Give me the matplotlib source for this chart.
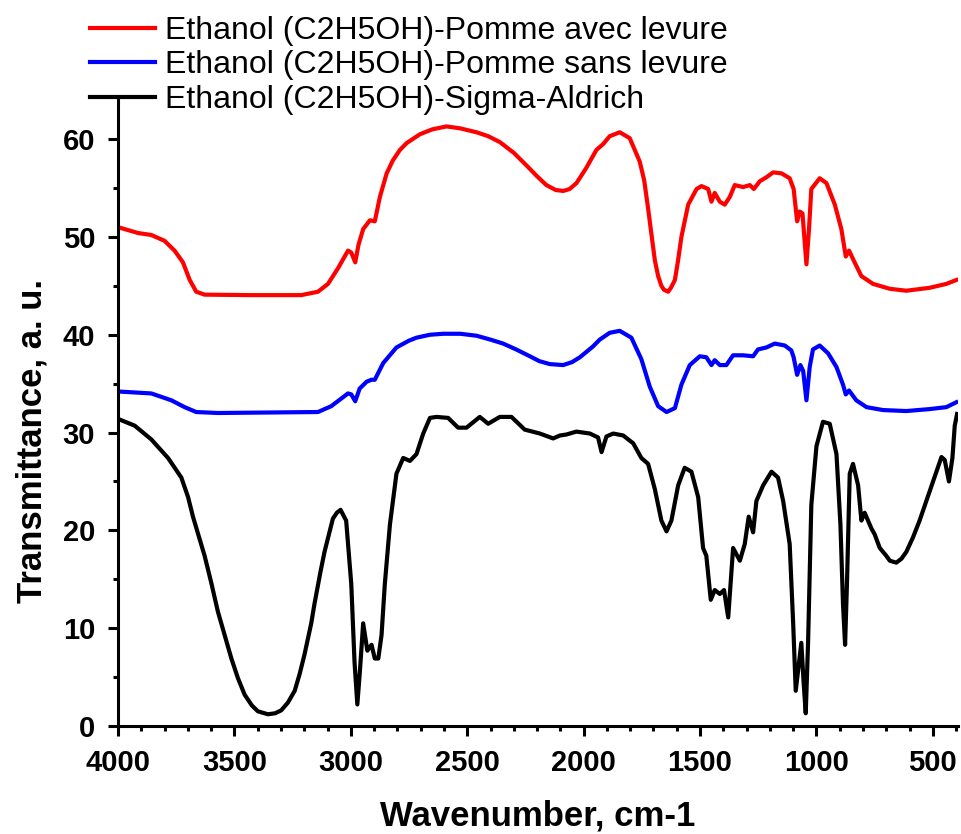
import matplotlib
matplotlib.use("Agg")
import matplotlib.pyplot as plt
from matplotlib.ticker import MultipleLocator

plt.rcParams['font.family'] = ['Liberation Sans', 'DejaVu Sans']

# ---- data (wavenumber cm-1, transmittance a.u.) ----
red_wn = [4000, 3914, 3857, 3800, 3757, 3721, 3692, 3664, 3628, 3428, 3213, 3141, 3098, 3055, 3012,
          2998, 2981, 2967, 2947, 2918, 2897, 2875, 2846, 2820, 2789, 2760, 2703, 2650, 2589, 2530,
          2460, 2410, 2360, 2300, 2245, 2200, 2160, 2120, 2088, 2060, 2031, 1990, 1945, 1916, 1888,
          1845, 1802, 1759, 1740, 1723, 1710, 1694, 1680, 1666, 1655, 1637, 1625, 1608, 1595, 1580,
          1551, 1515, 1494, 1465, 1451, 1437, 1415, 1394, 1372, 1351, 1315, 1286, 1269, 1243, 1215,
          1186, 1150, 1115, 1098, 1083, 1072, 1060, 1043, 1032, 1022, 986, 957, 921, 893, 874, 860,
          836, 807, 757, 685, 614, 514, 442, 399]
red_val = [51.0, 50.4, 50.2, 49.6, 48.6, 47.4, 45.6, 44.4, 44.1, 44.05, 44.05, 44.4, 45.2, 46.8, 48.6,
           48.4, 47.4, 49.2, 50.8, 51.7, 51.6, 54.1, 56.5, 57.8, 58.9, 59.6, 60.5, 61.0, 61.3, 61.1,
           60.7, 60.3, 59.7, 58.6, 57.3, 56.2, 55.3, 54.8, 54.7, 54.9, 55.5, 57.0, 58.9, 59.5, 60.3,
           60.7, 60.1, 57.7, 55.8, 52.9, 50.5, 47.6, 46.0, 45.0, 44.6, 44.4, 44.8, 45.6, 47.5, 50.0,
           53.3, 54.9, 55.2, 54.9, 53.6, 54.5, 53.6, 53.3, 54.1, 55.3, 55.1, 55.3, 54.9, 55.7, 56.1,
           56.6, 56.5, 56.0, 54.9, 51.6, 52.6, 52.4, 47.2, 50.8, 54.9, 56.0, 55.5, 53.3, 50.8, 48.0, 48.6,
           47.4, 46.0, 45.2, 44.7, 44.5, 44.8, 45.2, 45.6]

blue_wn = [4000, 3857, 3771, 3714, 3664, 3571, 3141, 3084, 3012, 2998, 2981, 2962, 2932, 2911, 2897,
           2861, 2804, 2750, 2718, 2660, 2603, 2530, 2460, 2400, 2346, 2290, 2231, 2190, 2145, 2088,
           2050, 2016, 1960, 1931, 1888, 1845, 1795, 1752, 1716, 1680, 1644, 1608, 1580, 1544, 1501,
           1473, 1451, 1437, 1415, 1387, 1358, 1315, 1272, 1251, 1215, 1179, 1136, 1108, 1098, 1083,
           1069, 1057, 1043, 1029, 1015, 986, 950, 914, 886, 874, 860, 829, 785, 714, 614, 514, 442, 399]
blue_val = [34.2, 34.0, 33.3, 32.6, 32.1, 32.0, 32.1, 32.7, 34.0, 33.9, 33.2, 34.5, 35.2, 35.4, 35.4,
            37.1, 38.7, 39.4, 39.7, 40.0, 40.1, 40.1, 39.9, 39.5, 39.1, 38.5, 37.8, 37.3, 37.0, 36.9,
            37.2, 37.7, 38.8, 39.5, 40.2, 40.4, 39.7, 37.5, 34.7, 32.7, 32.1, 32.5, 34.9, 36.9, 37.8,
            37.7, 36.9, 37.4, 36.9, 36.9, 37.9, 37.9, 37.8, 38.5, 38.7, 39.1, 38.9, 38.4, 37.7, 35.9,
            36.9, 36.3, 33.3, 36.7, 38.5, 38.9, 38.1, 36.7, 34.9, 33.9, 34.3, 33.3, 32.6, 32.3, 32.2,
            32.4, 32.6, 33.1]

black_wn = [4000, 3928, 3857, 3785, 3728, 3699, 3678, 3628, 3600, 3571, 3513, 3485, 3456, 3425, 3399,
            3356, 3325, 3299, 3270, 3241, 3220, 3199, 3170, 3156, 3130, 3113, 3077, 3060, 3044, 3020,
            2998, 2984, 2972, 2961, 2947, 2929, 2911, 2897, 2882, 2868, 2854, 2832, 2804, 2775, 2746,
            2718, 2689, 2660, 2632, 2582, 2539, 2503, 2446, 2410, 2360, 2310, 2253, 2188, 2131, 2102,
            2074, 2031, 1973, 1938, 1923, 1902, 1873, 1830, 1787, 1752, 1723, 1694, 1666, 1644, 1623,
            1594, 1566, 1537, 1508, 1487, 1473, 1454, 1437, 1415, 1397, 1379, 1358, 1329, 1308, 1291,
            1272, 1258, 1229, 1193, 1165, 1143, 1115, 1100, 1089, 1075, 1065, 1055, 1046, 1036, 1022,
            1000, 972, 943, 914, 897, 886, 877, 869, 857, 843, 821, 807, 793, 764, 750, 728, 700, 685,
            657, 635, 614, 585, 557, 499, 463, 449, 431, 416, 406, 396]
black_val = [31.4, 30.7, 29.3, 27.4, 25.4, 23.4, 21.4, 17.4, 14.7, 11.7, 6.9, 4.9, 3.2, 2.1, 1.5,
             1.2, 1.3, 1.6, 2.4, 3.6, 5.3, 7.3, 10.5, 12.5, 15.8, 17.8, 21.2, 21.8, 22.1, 21.0,
             14.5, 6.5, 2.2, 5.6, 10.5, 7.7, 8.3, 6.9, 6.9, 9.3, 14.5, 20.6, 25.8, 27.4, 27.1,
             27.8, 29.9, 31.5, 31.6, 31.5, 30.5, 30.5, 31.6, 30.9, 31.6, 31.6, 30.3, 29.9, 29.4, 29.7,
             29.8, 30.1, 29.9, 29.5, 28.0, 29.6, 29.9, 29.7, 28.9, 27.4, 26.8, 24.2, 21.0, 19.9, 21.0,
             24.6, 26.4, 26.0, 23.4, 18.2, 17.4, 12.9, 13.9, 13.5, 13.9, 11.1, 18.2, 16.9, 18.6, 21.4,
             19.8, 23.0, 24.6, 26.0, 25.4, 23.0, 18.6, 10.5, 3.6, 6.5, 8.5, 4.4, 1.3, 8.5, 22.6,
             28.6, 31.1, 30.9, 27.8, 20.6, 12.5, 8.3, 14.5, 25.8, 26.8, 24.6, 21.0, 21.8, 20.2, 19.6, 18.2, 17.4, 16.9,
             16.7, 17.1, 17.8, 19.3, 21.0, 25.0, 27.5, 27.2, 25.0, 27.4, 30.7, 31.9]

labels = ["Ethanol (C2H5OH)-Pomme avec levure",
          "Ethanol (C2H5OH)-Pomme sans levure",
          "Ethanol (C2H5OH)-Sigma-Aldrich"]
x_ticks = [4000, 3500, 3000, 2500, 2000, 1500, 1000, 500]
y_ticks = [0, 10, 20, 30, 40, 50, 60]

# ---- figure ----
fig = plt.figure(figsize=(9.62, 8.34), dpi=100)
ax = fig.add_axes([118 / 962, 1 - 726 / 834, (958 - 118) / 962, (726 - 100) / 834])

lw = 3.0
ax.plot(red_wn, red_val, color='#ff0000', lw=lw, label=labels[0], solid_joinstyle='round')
ax.plot(blue_wn, blue_val, color='#0000ff', lw=lw, label=labels[1], solid_joinstyle='round')
ax.plot(black_wn, black_val, color='#000000', lw=lw, label=labels[2], solid_joinstyle='round')

ax.set_xlim(4000, 392)
ax.set_ylim(0, 64)
ax.set_xticks(x_ticks)
ax.set_yticks(y_ticks)
ax.xaxis.set_minor_locator(MultipleLocator(100))
ax.yaxis.set_minor_locator(MultipleLocator(5))

for s in ['top', 'right']:
    ax.spines[s].set_visible(False)
for s in ['left', 'bottom']:
    ax.spines[s].set_linewidth(2.2)

ax.tick_params(which='major', direction='out', length=7.5, width=2.2, labelsize=21, pad=9)
ax.tick_params(which='minor', direction='out', length=3.8, width=2.2)
for lab in ax.get_xticklabels() + ax.get_yticklabels():
    lab.set_fontweight('bold')

ax.set_xlabel("Wavenumber, cm-1", fontsize=25, fontweight='bold')
ax.set_ylabel("Transmittance, a. u.", fontsize=25, fontweight='bold')
ax.xaxis.set_label_coords(0.5, -0.117)
ax.yaxis.set_label_coords(-0.083, 0.455)

leg = ax.legend(loc='upper left', bbox_to_anchor=(90 / 962, 1 - 16 / 834),
                bbox_transform=fig.transFigure, frameon=False, fontsize=23,
                handlelength=2.05, handletextpad=0.3, labelspacing=0.14,
                borderpad=0, borderaxespad=0)

fig.savefig("out.png", dpi=100)
